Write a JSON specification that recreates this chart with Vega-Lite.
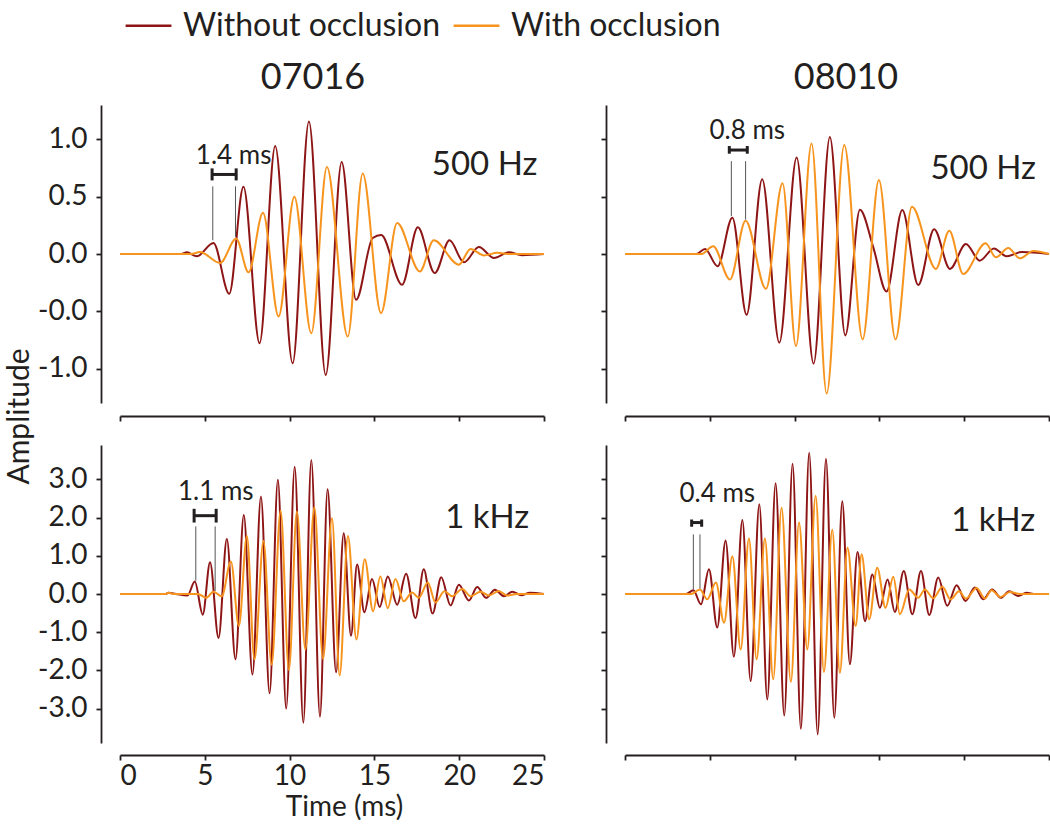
{
"$schema":"https://vega.github.io/schema/vega-lite/v6.json",
"padding":{"left":4,"top":1,"right":0,"bottom":3},
"bounds":"flush",
"columns":2,
"spacing":{"row":42,"column":81},
"resolve":{"scale":{"color":"shared","x":"independent","y":"independent"},"legend":{"color":"shared"}},
"config":{"font":"Lato","view":{"stroke":null},
 "axis":{"domainColor":"#231F20","domainWidth":1.8,"tickColor":"#231F20","tickWidth":1.8,"tickSize":5,"labelColor":"#231F20","labelFontSize":28,"labelFont":"Lato","titleFont":"Lato","titleColor":"#231F20","titleFontWeight":"normal","grid":false,"labelPadding":6},
 "axisY":{"labelPadding":9},
 "title":{"font":"Lato","fontSize":36,"fontWeight":"normal","color":"#231F20","frame":"group","baseline":"alphabetic","offset":8}},
"datasets":{
"waves":[
{"p":"TL","s":"Without occlusion","t":0,"a":0},{"p":"TL","s":"Without occlusion","t":3.6,"a":0},{"p":"TL","s":"Without occlusion","t":3.94,"a":0.015},{"p":"TL","s":"Without occlusion","t":4.53,"a":-0.02},{"p":"TL","s":"Without occlusion","t":5.51,"a":0.096},{"p":"TL","s":"Without occlusion","t":6.44,"a":-0.347},{"p":"TL","s":"Without occlusion","t":7.28,"a":0.586},{"p":"TL","s":"Without occlusion","t":8.23,"a":-0.779},{"p":"TL","s":"Without occlusion","t":9.15,"a":0.942},{"p":"TL","s":"Without occlusion","t":10.18,"a":-0.954},{"p":"TL","s":"Without occlusion","t":11.14,"a":1.155},{"p":"TL","s":"Without occlusion","t":12.13,"a":-1.056},{"p":"TL","s":"Without occlusion","t":13.07,"a":0.802},{"p":"TL","s":"Without occlusion","t":13.92,"a":-0.4},{"p":"TL","s":"Without occlusion","t":14.9,"a":0.14},{"p":"TL","s":"Without occlusion","t":15.4,"a":0.165},{"p":"TL","s":"Without occlusion","t":16.63,"a":-0.268},{"p":"TL","s":"Without occlusion","t":17.56,"a":0.233},{"p":"TL","s":"Without occlusion","t":18.56,"a":-0.166},{"p":"TL","s":"Without occlusion","t":19.43,"a":0.12},{"p":"TL","s":"Without occlusion","t":20.28,"a":-0.073},{"p":"TL","s":"Without occlusion","t":21.16,"a":0.061},{"p":"TL","s":"Without occlusion","t":22.05,"a":-0.035},{"p":"TL","s":"Without occlusion","t":22.93,"a":0.015},{"p":"TL","s":"Without occlusion","t":23.7,"a":-0.01},{"p":"TL","s":"Without occlusion","t":25,"a":0},
{"p":"TR","s":"Without occlusion","t":0,"a":0},{"p":"TR","s":"Without occlusion","t":4.2,"a":0},{"p":"TR","s":"Without occlusion","t":4.72,"a":0.043},{"p":"TR","s":"Without occlusion","t":5.46,"a":-0.107},{"p":"TR","s":"Without occlusion","t":6.33,"a":0.316},{"p":"TR","s":"Without occlusion","t":7.17,"a":-0.53},{"p":"TR","s":"Without occlusion","t":8.09,"a":0.652},{"p":"TR","s":"Without occlusion","t":9.1,"a":-0.774},{"p":"TR","s":"Without occlusion","t":10.12,"a":0.841},{"p":"TR","s":"Without occlusion","t":11.12,"a":-0.957},{"p":"TR","s":"Without occlusion","t":12.08,"a":1.02},{"p":"TR","s":"Without occlusion","t":12.99,"a":-0.71},{"p":"TR","s":"Without occlusion","t":13.85,"a":0.386},{"p":"TR","s":"Without occlusion","t":14.64,"a":0.058},{"p":"TR","s":"Without occlusion","t":15.42,"a":-0.328},{"p":"TR","s":"Without occlusion","t":16.35,"a":0.383},{"p":"TR","s":"Without occlusion","t":17.29,"a":-0.27},{"p":"TR","s":"Without occlusion","t":18.23,"a":0.217},{"p":"TR","s":"Without occlusion","t":19.16,"a":-0.13},{"p":"TR","s":"Without occlusion","t":20.1,"a":0.087},{"p":"TR","s":"Without occlusion","t":20.92,"a":-0.058},{"p":"TR","s":"Without occlusion","t":21.75,"a":0.049},{"p":"TR","s":"Without occlusion","t":22.5,"a":-0.02},{"p":"TR","s":"Without occlusion","t":23.4,"a":0.017},{"p":"TR","s":"Without occlusion","t":25,"a":0},
{"p":"BL","s":"Without occlusion","t":0,"a":0},{"p":"BL","s":"Without occlusion","t":2.7,"a":0},{"p":"BL","s":"Without occlusion","t":2.85,"a":0.03},{"p":"BL","s":"Without occlusion","t":3.3,"a":0},{"p":"BL","s":"Without occlusion","t":3.98,"a":-0.04},{"p":"BL","s":"Without occlusion","t":4.41,"a":0.33},{"p":"BL","s":"Without occlusion","t":4.88,"a":-0.54},{"p":"BL","s":"Without occlusion","t":5.31,"a":0.83},{"p":"BL","s":"Without occlusion","t":5.81,"a":-1.15},{"p":"BL","s":"Without occlusion","t":6.3,"a":1.44},{"p":"BL","s":"Without occlusion","t":6.81,"a":-1.71},{"p":"BL","s":"Without occlusion","t":7.3,"a":2.07},{"p":"BL","s":"Without occlusion","t":7.81,"a":-2.11},{"p":"BL","s":"Without occlusion","t":8.31,"a":2.55},{"p":"BL","s":"Without occlusion","t":8.82,"a":-2.6},{"p":"BL","s":"Without occlusion","t":9.31,"a":2.99},{"p":"BL","s":"Without occlusion","t":9.8,"a":-3.0},{"p":"BL","s":"Without occlusion","t":10.3,"a":3.33},{"p":"BL","s":"Without occlusion","t":10.81,"a":-3.37},{"p":"BL","s":"Without occlusion","t":11.28,"a":3.51},{"p":"BL","s":"Without occlusion","t":11.79,"a":-3.21},{"p":"BL","s":"Without occlusion","t":12.24,"a":2.74},{"p":"BL","s":"Without occlusion","t":12.74,"a":-2.05},{"p":"BL","s":"Without occlusion","t":13.19,"a":1.59},{"p":"BL","s":"Without occlusion","t":13.62,"a":-1.09},{"p":"BL","s":"Without occlusion","t":13.98,"a":0.77},{"p":"BL","s":"Without occlusion","t":14.41,"a":-0.48},{"p":"BL","s":"Without occlusion","t":14.86,"a":0.39},{"p":"BL","s":"Without occlusion","t":15.31,"a":-0.34},{"p":"BL","s":"Without occlusion","t":15.79,"a":0.46},{"p":"BL","s":"Without occlusion","t":16.34,"a":-0.28},{"p":"BL","s":"Without occlusion","t":16.87,"a":0.53},{"p":"BL","s":"Without occlusion","t":17.42,"a":-0.63},{"p":"BL","s":"Without occlusion","t":17.91,"a":0.65},{"p":"BL","s":"Without occlusion","t":18.43,"a":-0.51},{"p":"BL","s":"Without occlusion","t":18.94,"a":0.44},{"p":"BL","s":"Without occlusion","t":19.49,"a":-0.3},{"p":"BL","s":"Without occlusion","t":19.98,"a":0.24},{"p":"BL","s":"Without occlusion","t":20.57,"a":-0.17},{"p":"BL","s":"Without occlusion","t":21.06,"a":0.18},{"p":"BL","s":"Without occlusion","t":21.59,"a":-0.1},{"p":"BL","s":"Without occlusion","t":22.11,"a":0.11},{"p":"BL","s":"Without occlusion","t":22.64,"a":-0.06},{"p":"BL","s":"Without occlusion","t":23.13,"a":0.06},{"p":"BL","s":"Without occlusion","t":23.66,"a":-0.03},{"p":"BL","s":"Without occlusion","t":24.17,"a":0.03},{"p":"BL","s":"Without occlusion","t":25,"a":0},
{"p":"BR","s":"Without occlusion","t":0,"a":0},{"p":"BR","s":"Without occlusion","t":3.6,"a":0},{"p":"BR","s":"Without occlusion","t":4.03,"a":0.1},{"p":"BR","s":"Without occlusion","t":4.48,"a":-0.27},{"p":"BR","s":"Without occlusion","t":4.95,"a":0.65},{"p":"BR","s":"Without occlusion","t":5.44,"a":-0.88},{"p":"BR","s":"Without occlusion","t":5.93,"a":1.4},{"p":"BR","s":"Without occlusion","t":6.42,"a":-1.64},{"p":"BR","s":"Without occlusion","t":6.92,"a":1.94},{"p":"BR","s":"Without occlusion","t":7.41,"a":-2.28},{"p":"BR","s":"Without occlusion","t":7.92,"a":2.35},{"p":"BR","s":"Without occlusion","t":8.39,"a":-2.76},{"p":"BR","s":"Without occlusion","t":8.88,"a":2.9},{"p":"BR","s":"Without occlusion","t":9.39,"a":-3.18},{"p":"BR","s":"Without occlusion","t":9.88,"a":3.41},{"p":"BR","s":"Without occlusion","t":10.37,"a":-3.53},{"p":"BR","s":"Without occlusion","t":10.86,"a":3.7},{"p":"BR","s":"Without occlusion","t":11.36,"a":-3.67},{"p":"BR","s":"Without occlusion","t":11.85,"a":3.54},{"p":"BR","s":"Without occlusion","t":12.34,"a":-3.24},{"p":"BR","s":"Without occlusion","t":12.81,"a":2.43},{"p":"BR","s":"Without occlusion","t":13.26,"a":-1.84},{"p":"BR","s":"Without occlusion","t":13.71,"a":1.1},{"p":"BR","s":"Without occlusion","t":14.15,"a":-0.71},{"p":"BR","s":"Without occlusion","t":14.58,"a":0.51},{"p":"BR","s":"Without occlusion","t":15.03,"a":-0.36},{"p":"BR","s":"Without occlusion","t":15.48,"a":0.38},{"p":"BR","s":"Without occlusion","t":15.91,"a":-0.47},{"p":"BR","s":"Without occlusion","t":16.44,"a":0.6},{"p":"BR","s":"Without occlusion","t":16.94,"a":-0.53},{"p":"BR","s":"Without occlusion","t":17.45,"a":0.6},{"p":"BR","s":"Without occlusion","t":17.94,"a":-0.55},{"p":"BR","s":"Without occlusion","t":18.47,"a":0.43},{"p":"BR","s":"Without occlusion","t":19.0,"a":-0.31},{"p":"BR","s":"Without occlusion","t":19.55,"a":0.23},{"p":"BR","s":"Without occlusion","t":20.08,"a":-0.18},{"p":"BR","s":"Without occlusion","t":20.63,"a":0.17},{"p":"BR","s":"Without occlusion","t":21.12,"a":-0.14},{"p":"BR","s":"Without occlusion","t":21.65,"a":0.12},{"p":"BR","s":"Without occlusion","t":22.16,"a":-0.1},{"p":"BR","s":"Without occlusion","t":22.65,"a":0.07},{"p":"BR","s":"Without occlusion","t":23.18,"a":-0.05},{"p":"BR","s":"Without occlusion","t":23.67,"a":0.03},{"p":"BR","s":"Without occlusion","t":24.2,"a":0},{"p":"BR","s":"Without occlusion","t":25,"a":0},
{"p":"TL","s":"With occlusion","t":0,"a":0},{"p":"TL","s":"With occlusion","t":4.2,"a":0},{"p":"TL","s":"With occlusion","t":4.72,"a":0.017},{"p":"TL","s":"With occlusion","t":5.9,"a":-0.079},{"p":"TL","s":"With occlusion","t":6.85,"a":0.134},{"p":"TL","s":"With occlusion","t":7.58,"a":-0.16},{"p":"TL","s":"With occlusion","t":8.43,"a":0.359},{"p":"TL","s":"With occlusion","t":9.35,"a":-0.545},{"p":"TL","s":"With occlusion","t":10.28,"a":0.499},{"p":"TL","s":"With occlusion","t":11.28,"a":-0.691},{"p":"TL","s":"With occlusion","t":12.2,"a":0.758},{"p":"TL","s":"With occlusion","t":13.43,"a":-0.72},{"p":"TL","s":"With occlusion","t":14.31,"a":0.703},{"p":"TL","s":"With occlusion","t":15.39,"a":-0.516},{"p":"TL","s":"With occlusion","t":16.34,"a":0.271},{"p":"TL","s":"With occlusion","t":17.68,"a":-0.152},{"p":"TL","s":"With occlusion","t":18.5,"a":0.12},{"p":"TL","s":"With occlusion","t":19.98,"a":-0.093},{"p":"TL","s":"With occlusion","t":20.67,"a":0.044},{"p":"TL","s":"With occlusion","t":21.45,"a":-0.012},{"p":"TL","s":"With occlusion","t":22.25,"a":0.01},{"p":"TL","s":"With occlusion","t":23,"a":0},{"p":"TL","s":"With occlusion","t":25,"a":0},
{"p":"TR","s":"With occlusion","t":0,"a":0},{"p":"TR","s":"With occlusion","t":4.5,"a":0},{"p":"TR","s":"With occlusion","t":5.2,"a":0.067},{"p":"TR","s":"With occlusion","t":6.19,"a":-0.223},{"p":"TR","s":"With occlusion","t":7.11,"a":0.29},{"p":"TR","s":"With occlusion","t":8.31,"a":-0.304},{"p":"TR","s":"With occlusion","t":9.29,"a":0.617},{"p":"TR","s":"With occlusion","t":10.08,"a":-0.803},{"p":"TR","s":"With occlusion","t":11.0,"a":0.965},{"p":"TR","s":"With occlusion","t":11.89,"a":-1.217},{"p":"TR","s":"With occlusion","t":12.93,"a":0.951},{"p":"TR","s":"With occlusion","t":14.01,"a":-0.745},{"p":"TR","s":"With occlusion","t":14.97,"a":0.646},{"p":"TR","s":"With occlusion","t":15.95,"a":-0.745},{"p":"TR","s":"With occlusion","t":16.92,"a":0.412},{"p":"TR","s":"With occlusion","t":18.33,"a":-0.13},{"p":"TR","s":"With occlusion","t":19.12,"a":0.203},{"p":"TR","s":"With occlusion","t":19.94,"a":-0.174},{"p":"TR","s":"With occlusion","t":21.26,"a":0.093},{"p":"TR","s":"With occlusion","t":21.87,"a":-0.029},{"p":"TR","s":"With occlusion","t":22.6,"a":0.052},{"p":"TR","s":"With occlusion","t":23.28,"a":-0.038},{"p":"TR","s":"With occlusion","t":24.07,"a":0.026},{"p":"TR","s":"With occlusion","t":25,"a":0},
{"p":"BL","s":"With occlusion","t":0,"a":0},{"p":"BL","s":"With occlusion","t":2.7,"a":0},{"p":"BL","s":"With occlusion","t":2.85,"a":0.03},{"p":"BL","s":"With occlusion","t":3.2,"a":0},{"p":"BL","s":"With occlusion","t":4.6,"a":0},{"p":"BL","s":"With occlusion","t":5.08,"a":-0.1},{"p":"BL","s":"With occlusion","t":5.51,"a":0.06},{"p":"BL","s":"With occlusion","t":6.0,"a":-0.06},{"p":"BL","s":"With occlusion","t":6.54,"a":0.85},{"p":"BL","s":"With occlusion","t":7.01,"a":-0.84},{"p":"BL","s":"With occlusion","t":7.48,"a":1.52},{"p":"BL","s":"With occlusion","t":7.93,"a":-1.71},{"p":"BL","s":"With occlusion","t":8.46,"a":1.39},{"p":"BL","s":"With occlusion","t":8.94,"a":-1.85},{"p":"BL","s":"With occlusion","t":9.47,"a":2.18},{"p":"BL","s":"With occlusion","t":9.96,"a":-1.99},{"p":"BL","s":"With occlusion","t":10.43,"a":2.16},{"p":"BL","s":"With occlusion","t":10.93,"a":-1.45},{"p":"BL","s":"With occlusion","t":11.46,"a":2.27},{"p":"BL","s":"With occlusion","t":11.97,"a":-1.7},{"p":"BL","s":"With occlusion","t":12.5,"a":1.98},{"p":"BL","s":"With occlusion","t":12.95,"a":-2.13},{"p":"BL","s":"With occlusion","t":13.44,"a":1.52},{"p":"BL","s":"With occlusion","t":13.94,"a":-1.19},{"p":"BL","s":"With occlusion","t":14.43,"a":0.91},{"p":"BL","s":"With occlusion","t":14.92,"a":-0.45},{"p":"BL","s":"With occlusion","t":15.35,"a":0.46},{"p":"BL","s":"With occlusion","t":15.79,"a":-0.37},{"p":"BL","s":"With occlusion","t":16.24,"a":0.39},{"p":"BL","s":"With occlusion","t":16.73,"a":-0.19},{"p":"BL","s":"With occlusion","t":17.22,"a":0.04},{"p":"BL","s":"With occlusion","t":17.62,"a":-0.1},{"p":"BL","s":"With occlusion","t":18.15,"a":0.3},{"p":"BL","s":"With occlusion","t":18.6,"a":-0.22},{"p":"BL","s":"With occlusion","t":19.13,"a":0.07},{"p":"BL","s":"With occlusion","t":19.59,"a":-0.06},{"p":"BL","s":"With occlusion","t":20.18,"a":0.13},{"p":"BL","s":"With occlusion","t":20.67,"a":-0.06},{"p":"BL","s":"With occlusion","t":21.26,"a":0.06},{"p":"BL","s":"With occlusion","t":21.75,"a":-0.04},{"p":"BL","s":"With occlusion","t":22.34,"a":0.08},{"p":"BL","s":"With occlusion","t":22.83,"a":-0.04},{"p":"BL","s":"With occlusion","t":23.4,"a":0},{"p":"BL","s":"With occlusion","t":25,"a":0},
{"p":"BR","s":"With occlusion","t":0,"a":0},{"p":"BR","s":"With occlusion","t":3.9,"a":0},{"p":"BR","s":"With occlusion","t":4.42,"a":0.12},{"p":"BR","s":"With occlusion","t":4.85,"a":-0.14},{"p":"BR","s":"With occlusion","t":5.36,"a":0.3},{"p":"BR","s":"With occlusion","t":5.84,"a":-0.75},{"p":"BR","s":"With occlusion","t":6.33,"a":0.99},{"p":"BR","s":"With occlusion","t":6.82,"a":-1.45},{"p":"BR","s":"With occlusion","t":7.31,"a":1.45},{"p":"BR","s":"With occlusion","t":7.76,"a":-1.71},{"p":"BR","s":"With occlusion","t":8.25,"a":1.45},{"p":"BR","s":"With occlusion","t":8.74,"a":-2.23},{"p":"BR","s":"With occlusion","t":9.23,"a":2.26},{"p":"BR","s":"With occlusion","t":9.78,"a":-2.3},{"p":"BR","s":"With occlusion","t":10.26,"a":1.87},{"p":"BR","s":"With occlusion","t":10.75,"a":-1.45},{"p":"BR","s":"With occlusion","t":11.24,"a":2.57},{"p":"BR","s":"With occlusion","t":11.73,"a":-2.04},{"p":"BR","s":"With occlusion","t":12.22,"a":1.68},{"p":"BR","s":"With occlusion","t":12.67,"a":-2.06},{"p":"BR","s":"With occlusion","t":13.12,"a":1.21},{"p":"BR","s":"With occlusion","t":13.6,"a":-0.84},{"p":"BR","s":"With occlusion","t":13.95,"a":1.04},{"p":"BR","s":"With occlusion","t":14.4,"a":-0.66},{"p":"BR","s":"With occlusion","t":14.87,"a":0.69},{"p":"BR","s":"With occlusion","t":15.36,"a":-0.36},{"p":"BR","s":"With occlusion","t":15.82,"a":0.45},{"p":"BR","s":"With occlusion","t":16.21,"a":-0.53},{"p":"BR","s":"With occlusion","t":16.76,"a":0.12},{"p":"BR","s":"With occlusion","t":17.29,"a":-0.1},{"p":"BR","s":"With occlusion","t":17.68,"a":0.12},{"p":"BR","s":"With occlusion","t":18.17,"a":-0.11},{"p":"BR","s":"With occlusion","t":18.72,"a":0.19},{"p":"BR","s":"With occlusion","t":19.19,"a":-0.14},{"p":"BR","s":"With occlusion","t":19.7,"a":0.07},{"p":"BR","s":"With occlusion","t":20.1,"a":-0.12},{"p":"BR","s":"With occlusion","t":20.73,"a":0.16},{"p":"BR","s":"With occlusion","t":21.22,"a":-0.12},{"p":"BR","s":"With occlusion","t":21.61,"a":0.1},{"p":"BR","s":"With occlusion","t":22.14,"a":-0.08},{"p":"BR","s":"With occlusion","t":22.69,"a":0.05},{"p":"BR","s":"With occlusion","t":23.3,"a":0},{"p":"BR","s":"With occlusion","t":25,"a":0}
],
"rules":[
{"p":"TL","k":"v","t":5.47,"t2":5.47,"a":0.12,"a2":0.59},{"p":"TL","k":"v","t":6.81,"t2":6.81,"a":0.15,"a2":0.59},
{"p":"TL","k":"b","t":5.43,"t2":6.85,"a":0.694,"a2":0.694},{"p":"TL","k":"b","t":5.43,"t2":5.43,"a":0.642,"a2":0.747},{"p":"TL","k":"b","t":6.85,"t2":6.85,"a":0.642,"a2":0.747},
{"p":"TR","k":"v","t":6.27,"t2":6.27,"a":0.33,"a2":0.81},{"p":"TR","k":"v","t":7.11,"t2":7.11,"a":0.3,"a2":0.81},
{"p":"TR","k":"b","t":6.15,"t2":7.21,"a":0.907,"a2":0.907},{"p":"TR","k":"b","t":6.15,"t2":6.15,"a":0.875,"a2":0.942},{"p":"TR","k":"b","t":7.21,"t2":7.21,"a":0.875,"a2":0.942},
{"p":"BL","k":"v","t":4.47,"t2":4.47,"a":0.35,"a2":1.77},{"p":"BL","k":"v","t":5.61,"t2":5.61,"a":0.08,"a2":1.77},
{"p":"BL","k":"b","t":4.37,"t2":5.67,"a":2.05,"a2":2.05},{"p":"BL","k":"b","t":4.37,"t2":4.37,"a":1.87,"a2":2.23},{"p":"BL","k":"b","t":5.67,"t2":5.67,"a":1.87,"a2":2.23},
{"p":"BR","k":"v","t":4.03,"t2":4.03,"a":0.12,"a2":1.56},{"p":"BR","k":"v","t":4.42,"t2":4.42,"a":0.14,"a2":1.56},
{"p":"BR","k":"b","t":3.93,"t2":4.52,"a":1.87,"a2":1.87},{"p":"BR","k":"b","t":3.93,"t2":3.93,"a":1.76,"a2":1.95},{"p":"BR","k":"b","t":4.52,"t2":4.52,"a":1.76,"a2":1.95}
],
"labels":[
{"p":"TL","k":"d","txt":"1.4 ms","t":6.7,"a":0.855},{"p":"TL","k":"f","txt":"500 Hz","t":21.5,"a":0.773},
{"p":"TR","k":"d","txt":"0.8 ms","t":7.21,"a":1.072},{"p":"TR","k":"f","txt":"500 Hz","t":21.12,"a":0.745},
{"p":"BL","k":"d","txt":"1.1 ms","t":5.65,"a":2.68},{"p":"BL","k":"f","txt":"1 kHz","t":21.65,"a":1.98},
{"p":"BR","k":"d","txt":"0.4 ms","t":5.44,"a":2.61},{"p":"BR","k":"f","txt":"1 kHz","t":21.71,"a":1.91}
]
},
"concat":[
{"width":424,"height":298,
 "title":{"text":"07016","dx":-19},
 "encoding":{
  "x":{"field":"t","type":"quantitative","scale":{"domain":[0,25],"nice":false,"zero":false},"axis":{"values":[0,5,10,15,20,25],"labels":false,"title":null,"offset":13}},
  "y":{"field":"a","type":"quantitative","scale":{"domain":[-1.3,1.3],"nice":false},"axis":{"values":[-1,-0.5,0,0.5,1],"offset":19,"labelExpr":"datum.value == -0.5 ? '-0.0' : (datum.value < 0 ? '-' : '') + format(abs(datum.value), '.1f')","title":"Amplitude","titleX":-73,"titleY":311,"titleAngle":-90,"titleAlign":"center","titleBaseline":"alphabetic","titleFontSize":30}}
 },
 "layer":[
  {"data":{"name":"waves"},"transform":[{"filter":"datum.p == 'TL'"}],"mark":{"type":"line","interpolate":"monotone","strokeWidth":2},
   "encoding":{"color":{"field":"s","type":"nominal","scale":{"domain":["Without occlusion","With occlusion"],"range":["#8E1515","#F7941D"]},
    "legend":{"orient":"none","legendX":4,"legendY":-104,"direction":"horizontal","title":null,"symbolType":"stroke","symbolStrokeWidth":2.5,"symbolSize":2100,"labelFontSize":32,"labelFont":"Lato","labelColor":"#231F20","labelLimit":500,"columnPadding":7,"labelOffset":10,"padding":0}}}},
  {"data":{"name":"rules"},"transform":[{"filter":"datum.p == 'TL' && datum.k == 'v'"}],"mark":{"type":"rule","color":"#555555","strokeWidth":1},"encoding":{"x2":{"field":"t2"},"y2":{"field":"a2"}}},
  {"data":{"name":"rules"},"transform":[{"filter":"datum.p == 'TL' && datum.k == 'b'"}],"mark":{"type":"rule","color":"#231F20","strokeWidth":3},"encoding":{"x2":{"field":"t2"},"y2":{"field":"a2"}}},
  {"data":{"name":"labels"},"transform":[{"filter":"datum.p == 'TL' && datum.k == 'd'"}],"mark":{"type":"text","fontSize":26,"color":"#231F20","baseline":"middle"},"encoding":{"text":{"field":"txt"}}},
  {"data":{"name":"labels"},"transform":[{"filter":"datum.p == 'TL' && datum.k == 'f'"}],"mark":{"type":"text","fontSize":33,"color":"#231F20","baseline":"middle"},"encoding":{"text":{"field":"txt"}}}
 ]},
{"width":424,"height":298,
 "title":{"text":"08010","dx":9},
 "encoding":{
  "x":{"field":"t","type":"quantitative","scale":{"domain":[0,25],"nice":false,"zero":false},"axis":{"values":[0,5,10,15,20,25],"labels":false,"title":null,"offset":13}},
  "y":{"field":"a","type":"quantitative","scale":{"domain":[-1.3,1.3],"nice":false},"axis":{"values":[-1,-0.5,0,0.5,1],"offset":19,"labels":false,"title":null}}
 },
 "layer":[
  {"data":{"name":"waves"},"transform":[{"filter":"datum.p == 'TR'"}],"mark":{"type":"line","interpolate":"monotone","strokeWidth":2},"encoding":{"color":{"field":"s","type":"nominal"}}},
  {"data":{"name":"rules"},"transform":[{"filter":"datum.p == 'TR' && datum.k == 'v'"}],"mark":{"type":"rule","color":"#555555","strokeWidth":1},"encoding":{"x2":{"field":"t2"},"y2":{"field":"a2"}}},
  {"data":{"name":"rules"},"transform":[{"filter":"datum.p == 'TR' && datum.k == 'b'"}],"mark":{"type":"rule","color":"#231F20","strokeWidth":3},"encoding":{"x2":{"field":"t2"},"y2":{"field":"a2"}}},
  {"data":{"name":"labels"},"transform":[{"filter":"datum.p == 'TR' && datum.k == 'd'"}],"mark":{"type":"text","fontSize":26,"color":"#231F20","baseline":"middle"},"encoding":{"text":{"field":"txt"}}},
  {"data":{"name":"labels"},"transform":[{"filter":"datum.p == 'TR' && datum.k == 'f'"}],"mark":{"type":"text","fontSize":33,"color":"#231F20","baseline":"middle"},"encoding":{"text":{"field":"txt"}}}
 ]},
{"width":424,"height":298,
 "encoding":{
  "x":{"field":"t","type":"quantitative","scale":{"domain":[0,25],"nice":false,"zero":false},"axis":{"values":[0,5,10,15,20,25],"title":"Time (ms)","titleFontSize":28,"titleX":224,"titlePadding":3,"labelPadding":2,"offset":12,"format":"d"}},
  "y":{"field":"a","type":"quantitative","scale":{"domain":[-3.9,3.9],"nice":false},"axis":{"values":[-3,-2,-1,0,1,2,3],"offset":19,"labelExpr":"(datum.value < 0 ? '-' : '') + format(abs(datum.value), '.1f')","title":null}}
 },
 "layer":[
  {"data":{"name":"waves"},"transform":[{"filter":"datum.p == 'BL'"}],"mark":{"type":"line","interpolate":"monotone","strokeWidth":2},"encoding":{"color":{"field":"s","type":"nominal"}}},
  {"data":{"name":"rules"},"transform":[{"filter":"datum.p == 'BL' && datum.k == 'v'"}],"mark":{"type":"rule","color":"#555555","strokeWidth":1},"encoding":{"x2":{"field":"t2"},"y2":{"field":"a2"}}},
  {"data":{"name":"rules"},"transform":[{"filter":"datum.p == 'BL' && datum.k == 'b'"}],"mark":{"type":"rule","color":"#231F20","strokeWidth":3},"encoding":{"x2":{"field":"t2"},"y2":{"field":"a2"}}},
  {"data":{"name":"labels"},"transform":[{"filter":"datum.p == 'BL' && datum.k == 'd'"}],"mark":{"type":"text","fontSize":26,"color":"#231F20","baseline":"middle"},"encoding":{"text":{"field":"txt"}}},
  {"data":{"name":"labels"},"transform":[{"filter":"datum.p == 'BL' && datum.k == 'f'"}],"mark":{"type":"text","fontSize":33,"color":"#231F20","baseline":"middle"},"encoding":{"text":{"field":"txt"}}}
 ]},
{"width":424,"height":298,
 "encoding":{
  "x":{"field":"t","type":"quantitative","scale":{"domain":[0,25],"nice":false,"zero":false},"axis":{"values":[0,5,10,15,20,25],"labels":false,"title":null,"offset":12}},
  "y":{"field":"a","type":"quantitative","scale":{"domain":[-3.9,3.9],"nice":false},"axis":{"values":[-3,-2,-1,0,1,2,3],"offset":19,"labels":false,"title":null}}
 },
 "layer":[
  {"data":{"name":"waves"},"transform":[{"filter":"datum.p == 'BR'"}],"mark":{"type":"line","interpolate":"monotone","strokeWidth":2},"encoding":{"color":{"field":"s","type":"nominal"}}},
  {"data":{"name":"rules"},"transform":[{"filter":"datum.p == 'BR' && datum.k == 'v'"}],"mark":{"type":"rule","color":"#555555","strokeWidth":1},"encoding":{"x2":{"field":"t2"},"y2":{"field":"a2"}}},
  {"data":{"name":"rules"},"transform":[{"filter":"datum.p == 'BR' && datum.k == 'b'"}],"mark":{"type":"rule","color":"#231F20","strokeWidth":3},"encoding":{"x2":{"field":"t2"},"y2":{"field":"a2"}}},
  {"data":{"name":"labels"},"transform":[{"filter":"datum.p == 'BR' && datum.k == 'd'"}],"mark":{"type":"text","fontSize":26,"color":"#231F20","baseline":"middle"},"encoding":{"text":{"field":"txt"}}},
  {"data":{"name":"labels"},"transform":[{"filter":"datum.p == 'BR' && datum.k == 'f'"}],"mark":{"type":"text","fontSize":33,"color":"#231F20","baseline":"middle"},"encoding":{"text":{"field":"txt"}}}
 ]}
]
}
